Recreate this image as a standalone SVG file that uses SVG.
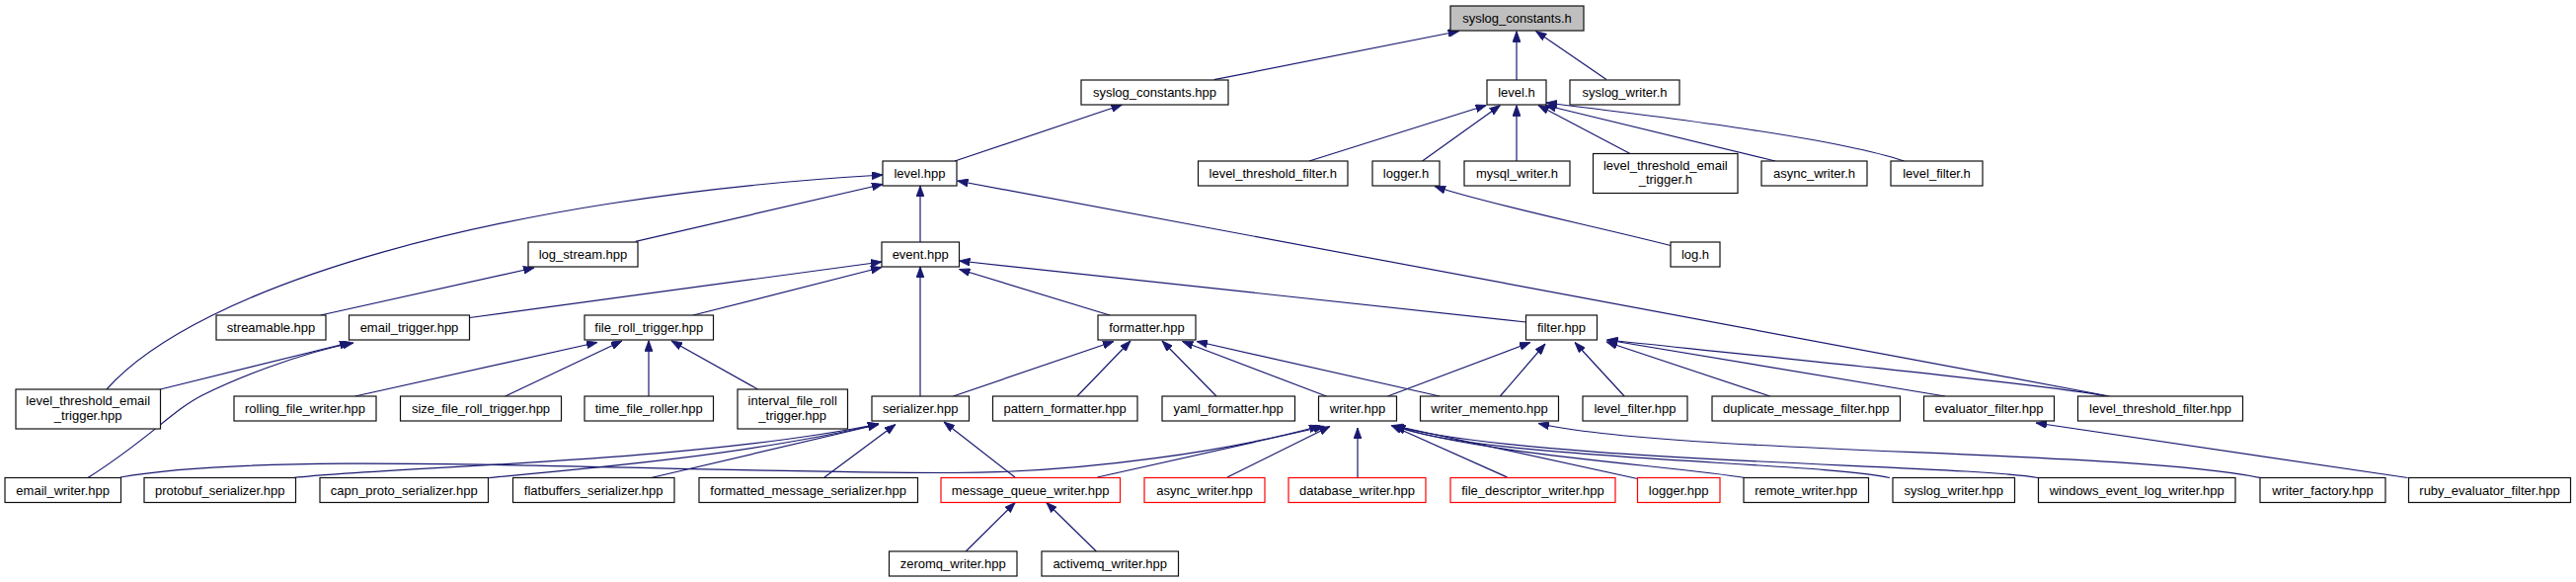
<svg xmlns="http://www.w3.org/2000/svg" width="2609" height="589" viewBox="0 0 2609 589">
<style>
rect{fill:#fff;stroke:#111;stroke-width:1.2}
rect.red{stroke:#f00}
rect.root{fill:#bfbfbf}
text{font-family:"Liberation Sans",Arial,Helvetica,sans-serif;font-size:13px;text-anchor:middle;fill:#000}
#edges path{fill:none;stroke:#191970;stroke-width:1.2;marker-end:url(#arr)}
</style>
<defs>
<marker id="arr" viewBox="0 0 11 8" refX="11" refY="4" markerWidth="11" markerHeight="8" markerUnits="userSpaceOnUse" orient="auto">
<path d="M0,0 L11,4 L0,8 z" fill="#191970" stroke="#191970" stroke-width="0.8"/>
</marker>
</defs>
<rect x="0" y="0" width="2609" height="589" style="fill:#fff;stroke:none"/>
<g id="edges">
<path d="M1229.6,80.7 L1477.7,31.5"/>
<path d="M1536,81 L1536,31.5"/>
<path d="M1627,80.5 L1555.5,31.5"/>
<path d="M967,163 L1136.5,106"/>
<path d="M1326,163 L1505.5,106.5"/>
<path d="M1440.5,163 L1519.5,106.5"/>
<path d="M1536,163 L1536,106.5"/>
<path d="M1651,155.5 L1558,106.5"/>
<path d="M1798,163 L1565,106.5"/>
<path d="M1928.5,163 C1860,140 1690,119 1566,104"/>
<path d="M1692,248.5 C1620,230 1500,205 1453,188.5"/>
<path d="M108,394 C200,290 500,200 894,177"/>
<path d="M643.7,244.3 L894,186.5"/>
<path d="M932,245 L932,188"/>
<path d="M2136.5,401 L969.5,183"/>
<path d="M324.6,319 L541,271"/>
<path d="M475.6,321.5 L893,265"/>
<path d="M702,319 L893,270.5"/>
<path d="M1124,319 L971.5,272.5"/>
<path d="M1545.5,326 L971.5,264"/>
<path d="M932,401 L932,270"/>
<path d="M162.5,394 L355,346.5"/>
<path d="M89,483.5 C150,445 175,415 205,400 S300,358 358,347"/>
<path d="M359.6,401 L605,346.5"/>
<path d="M511.7,401 L630,345"/>
<path d="M657,401 L657,344.5"/>
<path d="M767.5,394 L680,345"/>
<path d="M965.4,401 L1128,345.5"/>
<path d="M1091,401 L1145,345"/>
<path d="M1232,401 L1177,345"/>
<path d="M1343.4,401 L1197.5,345.5"/>
<path d="M1458.2,401 L1212,345.5"/>
<path d="M1405.5,401 L1550,346.5"/>
<path d="M1519.3,401 L1565,348"/>
<path d="M1645.2,401 L1595,346.5"/>
<path d="M1792.7,401 L1627,346"/>
<path d="M1970,401 L1627.5,344"/>
<path d="M2133.6,401 C2080,390 1800,362 1627.5,344"/>
<path d="M297.5,483.5 C400,472 700,468 890,429"/>
<path d="M495,483.5 C600,474 760,460 890,429"/>
<path d="M659.5,483.5 L890,429.5"/>
<path d="M835,483 L907,429.5"/>
<path d="M1028,483 L956,427"/>
<path d="M122,483 C280,455 650,478 960,478.5 C1100,479 1250,455 1337,431"/>
<path d="M1111.4,483 L1341.5,431.5"/>
<path d="M1243,483 L1347,431.5"/>
<path d="M1375,483.5 L1375,433"/>
<path d="M1526.5,483 L1409,430.5"/>
<path d="M1658.5,484.5 L1411,430.5"/>
<path d="M1767,483.5 C1700,472 1500,460 1412,431"/>
<path d="M1914,483.5 C1850,468 1500,465 1412,431"/>
<path d="M2064,483.5 C1990,470 1550,468 1412,431"/>
<path d="M2289,483.5 C2150,455 1700,460 1558,428.5"/>
<path d="M2438.5,483.5 L2062,428"/>
<path d="M978.2,558 L1028.2,508.5"/>
<path d="M1110.3,558 L1059.8,508.5"/>
</g>
<g id="n_syslog_constants_h"><rect class="root" x="1469" y="6" width="135" height="25"/><text x="1536.5" y="23">syslog_constants.h</text></g>
<g id="n_syslog_constants_hpp"><rect x="1095" y="81" width="149" height="25"/><text x="1169.5" y="98">syslog_constants.hpp</text></g>
<g id="n_level_h"><rect x="1506" y="81" width="60" height="25"/><text x="1536" y="98">level.h</text></g>
<g id="n_syslog_writer_h"><rect x="1590" y="81" width="111" height="25"/><text x="1645.5" y="98">syslog_writer.h</text></g>
<g id="n_level_hpp"><rect x="894" y="163" width="75" height="25"/><text x="931.5" y="180">level.hpp</text></g>
<g id="n_level_threshold_filter_h"><rect x="1213.5" y="163" width="151.5" height="25"/><text x="1289.2" y="180">level_threshold_filter.h</text></g>
<g id="n_logger_h"><rect x="1390" y="163" width="68" height="25"/><text x="1424" y="180">logger.h</text></g>
<g id="n_mysql_writer_h"><rect x="1483" y="163" width="107" height="25"/><text x="1536.5" y="180">mysql_writer.h</text></g>
<g id="n_level_threshold_email_trigger_h"><rect x="1613.5" y="155.5" width="146.5" height="40"/><text x="1686.8" y="171.5">level_threshold_email</text><text x="1686.8" y="186">_trigger.h</text></g>
<g id="n_async_writer_h"><rect x="1784" y="163" width="107" height="25"/><text x="1837.5" y="180">async_writer.h</text></g>
<g id="n_level_filter_h"><rect x="1915" y="163" width="93" height="25"/><text x="1961.5" y="180">level_filter.h</text></g>
<g id="n_log_stream_hpp"><rect x="535" y="245" width="111" height="25"/><text x="590.5" y="262">log_stream.hpp</text></g>
<g id="n_event_hpp"><rect x="893" y="245" width="78.5" height="25"/><text x="932.2" y="262">event.hpp</text></g>
<g id="n_log_h"><rect x="1692" y="245" width="50" height="25"/><text x="1717" y="262">log.h</text></g>
<g id="n_streamable_hpp"><rect x="219" y="319" width="111" height="25"/><text x="274.5" y="336">streamable.hpp</text></g>
<g id="n_email_trigger_hpp"><rect x="353.5" y="319" width="122" height="25"/><text x="414.5" y="336">email_trigger.hpp</text></g>
<g id="n_file_roll_trigger_hpp"><rect x="592" y="319" width="130.5" height="25"/><text x="657.2" y="336">file_roll_trigger.hpp</text></g>
<g id="n_formatter_hpp"><rect x="1112" y="319" width="99" height="25"/><text x="1161.5" y="336">formatter.hpp</text></g>
<g id="n_filter_hpp"><rect x="1545.5" y="319" width="72" height="25"/><text x="1581.5" y="336">filter.hpp</text></g>
<g id="n_level_threshold_email_trigger_hpp"><rect x="16" y="394" width="146.5" height="40"/><text x="89.2" y="410">level_threshold_email</text><text x="89.2" y="424.5">_trigger.hpp</text></g>
<g id="n_rolling_file_writer_hpp"><rect x="237" y="401" width="144" height="25"/><text x="309" y="418">rolling_file_writer.hpp</text></g>
<g id="n_size_file_roll_trigger_hpp"><rect x="405.5" y="401" width="163" height="25"/><text x="487" y="418">size_file_roll_trigger.hpp</text></g>
<g id="n_time_file_roller_hpp"><rect x="592" y="401" width="130.5" height="25"/><text x="657.2" y="418">time_file_roller.hpp</text></g>
<g id="n_interval_file_roll_trigger_hpp"><rect x="747" y="394" width="111.5" height="40"/><text x="802.7" y="410">interval_file_roll</text><text x="802.7" y="424.5">_trigger.hpp</text></g>
<g id="n_serializer_hpp"><rect x="883" y="401" width="98.5" height="25"/><text x="932.2" y="418">serializer.hpp</text></g>
<g id="n_pattern_formatter_hpp"><rect x="1005.5" y="401" width="146.5" height="25"/><text x="1078.7" y="418">pattern_formatter.hpp</text></g>
<g id="n_yaml_formatter_hpp"><rect x="1177" y="401" width="134.5" height="25"/><text x="1244.2" y="418">yaml_formatter.hpp</text></g>
<g id="n_writer_hpp"><rect x="1335.5" y="401" width="79" height="25"/><text x="1375" y="418">writer.hpp</text></g>
<g id="n_writer_memento_hpp"><rect x="1438.5" y="401" width="140" height="25"/><text x="1508.5" y="418">writer_memento.hpp</text></g>
<g id="n_level_filter_hpp"><rect x="1603" y="401" width="106" height="25"/><text x="1656" y="418">level_filter.hpp</text></g>
<g id="n_duplicate_message_filter_hpp"><rect x="1734" y="401" width="190.5" height="25"/><text x="1829.2" y="418">duplicate_message_filter.hpp</text></g>
<g id="n_evaluator_filter_hpp"><rect x="1948.5" y="401" width="132" height="25"/><text x="2014.5" y="418">evaluator_filter.hpp</text></g>
<g id="n_level_threshold_filter_hpp"><rect x="2104.5" y="401" width="167" height="25"/><text x="2188" y="418">level_threshold_filter.hpp</text></g>
<g id="n_email_writer_hpp"><rect x="5" y="483.5" width="117.5" height="25"/><text x="63.7" y="500.5">email_writer.hpp</text></g>
<g id="n_protobuf_serializer_hpp"><rect x="146" y="483.5" width="153.5" height="25"/><text x="222.7" y="500.5">protobuf_serializer.hpp</text></g>
<g id="n_capn_proto_serializer_hpp"><rect x="324" y="483.5" width="170.5" height="25"/><text x="409.2" y="500.5">capn_proto_serializer.hpp</text></g>
<g id="n_flatbuffers_serializer_hpp"><rect x="519.5" y="483.5" width="163.5" height="25"/><text x="601.2" y="500.5">flatbuffers_serializer.hpp</text></g>
<g id="n_formatted_message_serializer_hpp"><rect x="708" y="483.5" width="221.5" height="25"/><text x="818.7" y="500.5">formatted_message_serializer.hpp</text></g>
<g id="n_message_queue_writer_hpp"><rect class="red" x="953" y="483.5" width="181.5" height="25"/><text x="1043.7" y="500.5">message_queue_writer.hpp</text></g>
<g id="n_async_writer_hpp"><rect class="red" x="1159" y="483.5" width="122" height="25"/><text x="1220" y="500.5">async_writer.hpp</text></g>
<g id="n_database_writer_hpp"><rect class="red" x="1305" y="483.5" width="139" height="25"/><text x="1374.5" y="500.5">database_writer.hpp</text></g>
<g id="n_file_descriptor_writer_hpp"><rect class="red" x="1469" y="483.5" width="167" height="25"/><text x="1552.5" y="500.5">file_descriptor_writer.hpp</text></g>
<g id="n_logger_hpp"><rect class="red" x="1658.5" y="483.5" width="83.5" height="25"/><text x="1700.2" y="500.5">logger.hpp</text></g>
<g id="n_remote_writer_hpp"><rect x="1766" y="483.5" width="126.5" height="25"/><text x="1829.2" y="500.5">remote_writer.hpp</text></g>
<g id="n_syslog_writer_hpp"><rect x="1917" y="483.5" width="123.5" height="25"/><text x="1978.7" y="500.5">syslog_writer.hpp</text></g>
<g id="n_windows_event_log_writer_hpp"><rect x="2064.5" y="483.5" width="199.5" height="25"/><text x="2164.2" y="500.5">windows_event_log_writer.hpp</text></g>
<g id="n_writer_factory_hpp"><rect x="2289" y="483.5" width="127" height="25"/><text x="2352.5" y="500.5">writer_factory.hpp</text></g>
<g id="n_ruby_evaluator_filter_hpp"><rect x="2439.5" y="483.5" width="164" height="25"/><text x="2521.5" y="500.5">ruby_evaluator_filter.hpp</text></g>
<g id="n_zeromq_writer_hpp"><rect x="900.5" y="558" width="129.5" height="25"/><text x="965.2" y="575">zeromq_writer.hpp</text></g>
<g id="n_activemq_writer_hpp"><rect x="1055" y="558" width="138.5" height="25"/><text x="1124.2" y="575">activemq_writer.hpp</text></g>
</svg>
